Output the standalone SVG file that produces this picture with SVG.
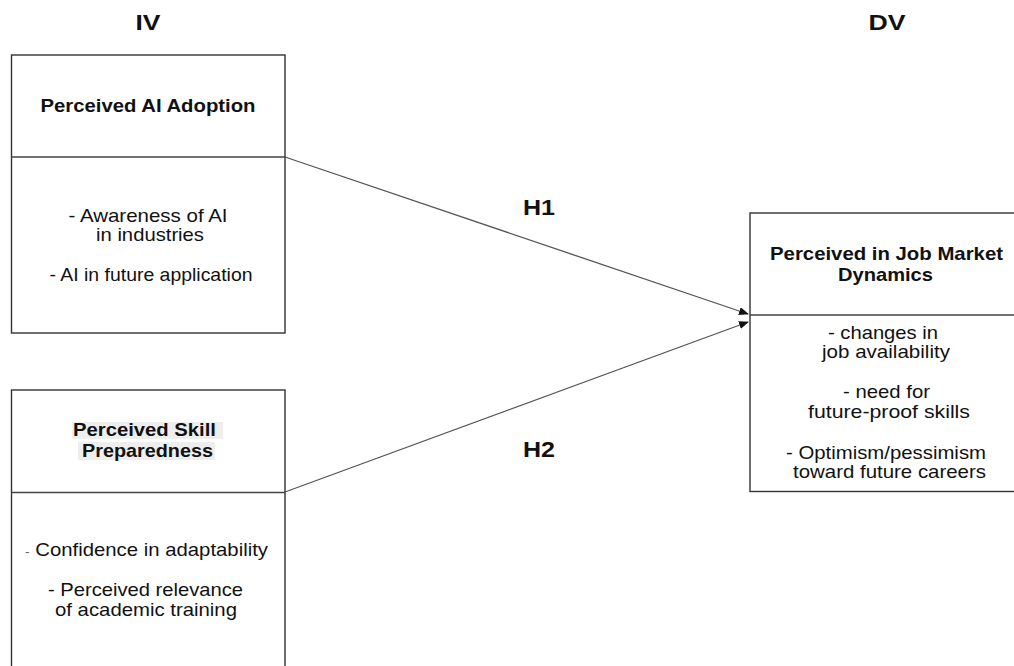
<svg xmlns="http://www.w3.org/2000/svg" width="1014" height="666" viewBox="0 0 1014 666">
<style>
.box{fill:#fff;stroke:#333;stroke-width:1.4}
.div{stroke:#444;stroke-width:1.4}
.t{font-family:"Liberation Sans",Arial,sans-serif;font-size:19px;fill:#111;text-anchor:middle}
.b{font-family:"Liberation Sans",Arial,sans-serif;font-size:19px;font-weight:bold;fill:#111;text-anchor:middle}
.h{font-family:"Liberation Sans",Arial,sans-serif;font-size:22px;font-weight:bold;fill:#111;text-anchor:middle}
.conn{stroke:#555;stroke-width:1.3;fill:none}
</style>
<defs>
<marker id="arr" markerWidth="10" markerHeight="8" refX="9" refY="4" orient="auto" markerUnits="userSpaceOnUse">
<path d="M0,0 L10,4 L0,8 Z" fill="#111"/>
</marker>
</defs>
<rect width="1014" height="666" fill="#fff"/>
<text class="h" x="148" y="30" textLength="25" lengthAdjust="spacingAndGlyphs">IV</text>
<text class="h" x="887" y="30" textLength="37" lengthAdjust="spacingAndGlyphs">DV</text>
<g id="connectors">
<line class="conn" x1="285" y1="157" x2="748" y2="314" marker-end="url(#arr)"/>
<line class="conn" x1="285" y1="492" x2="748" y2="322" marker-end="url(#arr)"/>
<text class="h" x="539" y="215" textLength="32" lengthAdjust="spacingAndGlyphs">H1</text>
<text class="h" x="539" y="457" textLength="32" lengthAdjust="spacingAndGlyphs">H2</text>
</g>
<g id="node-ai-adoption">
<rect class="box" x="11.5" y="55" width="273.5" height="278"/>
<line class="div" x1="11.5" y1="157" x2="285" y2="157"/>
<text class="b" x="148" y="112" textLength="215" lengthAdjust="spacingAndGlyphs">Perceived AI Adoption</text>
<text class="t" x="148" y="222" textLength="159" lengthAdjust="spacingAndGlyphs">- Awareness of AI</text>
<text class="t" x="150" y="241" textLength="108" lengthAdjust="spacingAndGlyphs">in industries</text>
<text class="t" x="151" y="281" textLength="203" lengthAdjust="spacingAndGlyphs">- AI in future application</text>
</g>
<g id="node-skill">
<rect class="box" x="11.5" y="390" width="273.5" height="290"/>
<line class="div" x1="11.5" y1="492.5" x2="285" y2="492.5"/>
<rect x="72" y="422" width="151" height="17" fill="#eeeeee"/>
<rect x="78" y="442" width="137" height="18" fill="#eeeeee"/>
<text class="b" x="144.5" y="436" textLength="143" lengthAdjust="spacingAndGlyphs">Perceived Skill</text>
<text class="b" x="147.5" y="457" textLength="131" lengthAdjust="spacingAndGlyphs">Preparedness</text>
<text class="t" x="146.5" y="556" textLength="243" lengthAdjust="spacingAndGlyphs"><tspan font-size="13" fill="#666">-</tspan> Confidence in adaptability</text>
<text class="t" x="145.5" y="596" textLength="195" lengthAdjust="spacingAndGlyphs">- Perceived relevance</text>
<text class="t" x="146" y="616" textLength="182" lengthAdjust="spacingAndGlyphs">of academic training</text>
</g>
<g id="node-job-market">
<rect class="box" x="750" y="213" width="300" height="278.5"/>
<line class="div" x1="750" y1="315" x2="1014" y2="315"/>
<text class="b" x="886.5" y="260" textLength="233" lengthAdjust="spacingAndGlyphs">Perceived in Job Market</text>
<text class="b" x="885.5" y="281" textLength="95" lengthAdjust="spacingAndGlyphs">Dynamics</text>
<text class="t" x="883" y="339" textLength="110" lengthAdjust="spacingAndGlyphs">- changes in</text>
<text class="t" x="886" y="358" textLength="128" lengthAdjust="spacingAndGlyphs">job availability</text>
<text class="t" x="886.5" y="398" textLength="87" lengthAdjust="spacingAndGlyphs">- need for</text>
<text class="t" x="889" y="418" textLength="162" lengthAdjust="spacingAndGlyphs">future-proof  skills</text>
<text class="t" x="886" y="459" textLength="200" lengthAdjust="spacingAndGlyphs">- Optimism/pessimism</text>
<text class="t" x="889.5" y="478" textLength="193" lengthAdjust="spacingAndGlyphs">toward future careers</text>
</g>
</svg>
